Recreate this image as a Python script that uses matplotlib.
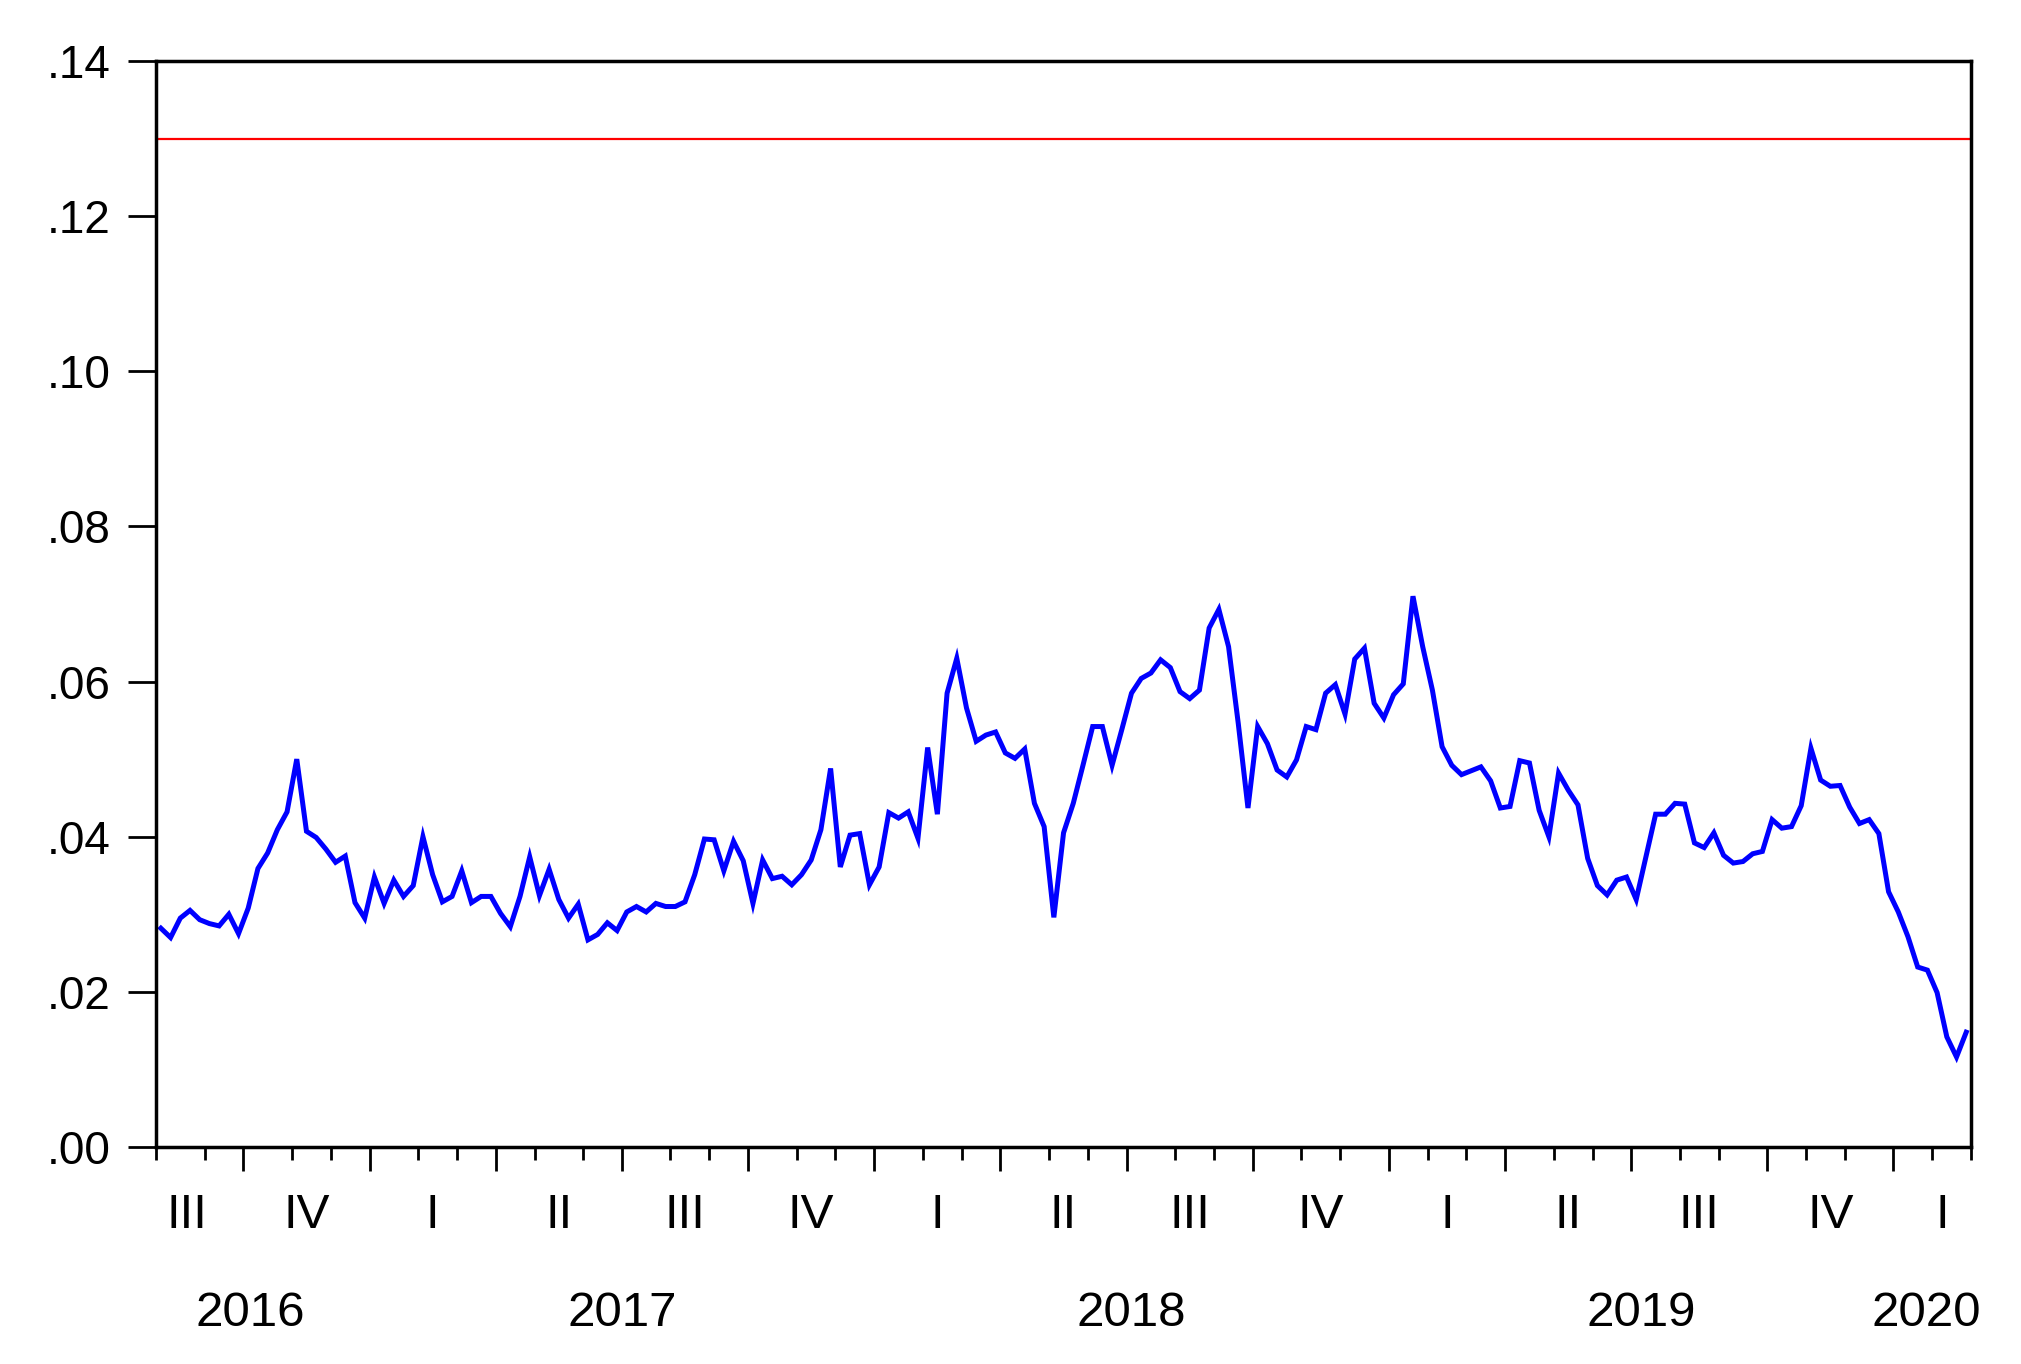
import numpy as np
import pandas as pd
import matplotlib
matplotlib.use('Agg')
import matplotlib.pyplot as plt

# Weekly series (Monday dated), starting 1 Aug 2016
start_date = '2016-08-01'
values = [
    0.0282, 0.0270, 0.0295, 0.0305, 0.0293, 0.0288, 0.0285, 0.0300, 0.0275, 0.0308,
    0.0359, 0.0379, 0.0409, 0.0432, 0.0500, 0.0407, 0.0399, 0.0384, 0.0367, 0.0375,
    0.0315, 0.0295, 0.0348, 0.0314, 0.0344, 0.0323, 0.0337, 0.0400, 0.0351, 0.0316,
    0.0323, 0.0356, 0.0315, 0.0323, 0.0323, 0.0301, 0.0284, 0.0323, 0.0374, 0.0324,
    0.0358, 0.0319, 0.0295, 0.0313, 0.0267, 0.0274, 0.0289, 0.0279, 0.0303, 0.0310,
    0.0303, 0.0314, 0.0310, 0.0310, 0.0316, 0.0351, 0.0397, 0.0396, 0.0356, 0.0394,
    0.0369, 0.0314, 0.0370, 0.0346, 0.0349, 0.0338, 0.0351, 0.0370, 0.0409, 0.0488,
    0.0361, 0.0402, 0.0404, 0.0338, 0.0361, 0.0431, 0.0424, 0.0432, 0.0398, 0.0515,
    0.0429, 0.0585, 0.0630, 0.0566, 0.0523, 0.0531, 0.0535, 0.0508, 0.0501, 0.0513,
    0.0443, 0.0413, 0.0296, 0.0405, 0.0443, 0.0492, 0.0542, 0.0542, 0.0492, 0.0538,
    0.0585, 0.0604, 0.0611, 0.0628, 0.0618, 0.0587, 0.0578, 0.0589, 0.0669, 0.0693,
    0.0645, 0.0546, 0.0437, 0.0542, 0.0520, 0.0486, 0.0477, 0.0499, 0.0542, 0.0538,
    0.0585, 0.0596, 0.0558, 0.0629, 0.0643, 0.0572, 0.0553, 0.0583, 0.0597, 0.0710,
    0.0645, 0.0589, 0.0516, 0.0492, 0.0480, 0.0485, 0.0490, 0.0472, 0.0437, 0.0439,
    0.0498, 0.0495, 0.0434, 0.0400, 0.0482, 0.0460, 0.0441, 0.0372, 0.0337, 0.0325,
    0.0344, 0.0348, 0.0319, 0.0374, 0.0429, 0.0429, 0.0443, 0.0442, 0.0392, 0.0386,
    0.0405, 0.0376, 0.0366, 0.0368, 0.0378, 0.0381, 0.0422, 0.0411, 0.0413, 0.0440,
    0.0514, 0.0473, 0.0465, 0.0466, 0.0438, 0.0417, 0.0422, 0.0404, 0.0329, 0.0303,
    0.0271, 0.0232, 0.0228, 0.0199, 0.0142, 0.0116, 0.0148,
]
threshold = 0.13
y_ticks = [0.00, 0.02, 0.04, 0.06, 0.08, 0.10, 0.12, 0.14]
roman = {1: 'I', 2: 'II', 3: 'III', 4: 'IV'}

plt.rcParams['font.family'] = ['Liberation Sans', 'DejaVu Sans']
FS_Y = 33
FS_X = 35.5

dates = pd.date_range(start_date, periods=len(values), freq='7D')
half = pd.Timedelta(days=3.5)
x_left, x_right = dates[0] - half, dates[-1] + half

fig = plt.figure(figsize=(20.21, 13.64), dpi=100)
ax = fig.add_axes([0.0772, 0.1591, 0.8981, 0.7962])

ax.plot(dates, values, color='#0000ff', linewidth=3.6, solid_joinstyle='miter')
ax.axhline(threshold, color='#ff0000', linewidth=1.6)

ax.set_xlim(x_left, x_right)
ax.set_ylim(0, 0.14)
ax.set_yticks(y_ticks)
ax.set_yticklabels([f'{v:.2f}'.lstrip('0') for v in y_ticks], fontsize=FS_Y)
ax.tick_params(axis='y', direction='out', length=20, width=2, pad=13)

for sp in ax.spines.values():
    sp.set_linewidth(2.5)

# ticks sit half a week before the first observation of each month
new_month = np.r_[True, dates.month[1:] != dates.month[:-1]]
month_starts = dates[new_month]
is_quarter = (month_starts.month % 3 == 1) & (month_starts != dates[0])
major_ticks = list(month_starts[is_quarter] - half)
minor_ticks = list(month_starts[~is_quarter] - half) + [x_right]
ax.set_xticks(major_ticks)
ax.set_xticks(minor_ticks, minor=True)
ax.set_xticklabels([])
ax.tick_params(axis='x', which='major', direction='out', length=17, width=2)
ax.tick_params(axis='x', which='minor', direction='out', length=9.5, width=2)

trans = ax.get_xaxis_transform()


def span_centres(keys, push_first, push_last):
    # centre of each period's visible span, edge periods nudged outwards
    out = []
    groups = pd.Series(dates).groupby(keys)
    n = len(groups)
    for k, (key, grp) in enumerate(groups):
        lo = max(grp.iloc[0] - half, x_left)
        hi = min(grp.iloc[-1] + half, x_right)
        mid = lo + (hi - lo) / 2
        if k == 0:
            mid -= pd.Timedelta(days=push_first)
        elif k == n - 1:
            mid += pd.Timedelta(days=push_last)
        out.append((key, mid))
    return out


for key, mid in span_centres(dates.to_period('Q'), 9, 7):
    ax.text(mid, -0.063, roman[key.quarter], transform=trans, fontsize=FS_X,
            ha='center', va='center')

for key, mid in span_centres(dates.year, 9, -4):
    ax.text(mid, -0.153, str(key), transform=trans, fontsize=FS_X,
            ha='center', va='center', clip_on=False)

fig.savefig('out.png', dpi=100)
